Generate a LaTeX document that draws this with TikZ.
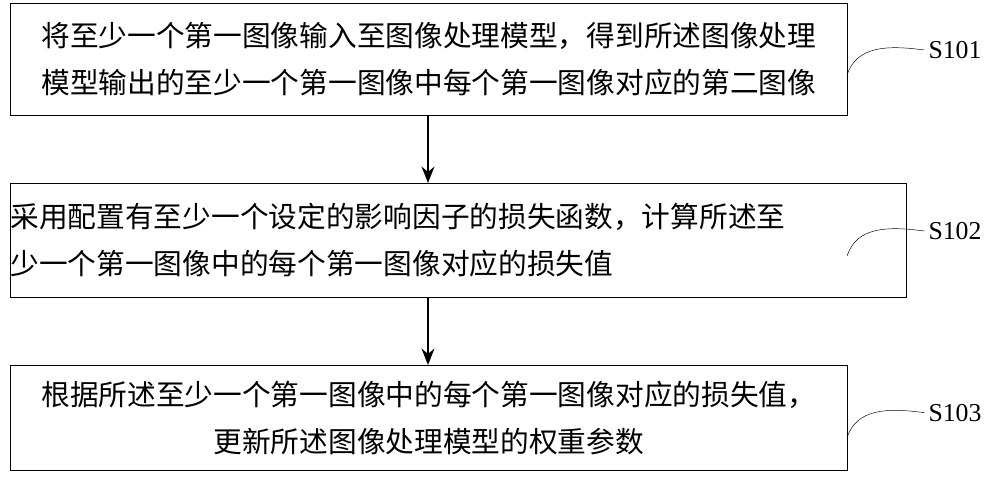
\documentclass[tikz,border=0pt]{standalone}
\usepackage{fontspec}
\setmainfont{Liberation Serif}
\newfontfamily\cjk{Noto Sans CJK SC}
\usetikzlibrary{arrows.meta, positioning}

\tikzset{
	stepbox/.style={draw, thick, minimum width=25.1cm, inner sep=0pt, font=\cjk\fontsize{24.5}{40}\selectfont},
	flow/.style={draw, line width=1.4pt, -{Stealth[length=14pt, width=11pt]}},
	tag/.style={font=\fontsize{22}{24}\selectfont}
}

\begin{document}
\begin{tikzpicture}[x=1cm, y=1cm]
\useasboundingbox (0,0) rectangle (30,14.28);

\node [stepbox, minimum height=3.36cm, align=left, anchor=north west] (1) at (0.3,14.19) {
	将至少一个第一图像输入至图像处理模型，得到所述图像处理\\
	模型输出的至少一个第一图像中每个第一图像对应的第二图像
};

\node [stepbox, minimum height=3.42cm, align=left, anchor=north west] (2) at (0.3,8.79) {
	采用配置有至少一个设定的影响因子的损失函数，计算所述至\\
	少一个第一图像中的每个第一图像对应的损失值\hspace{10.2em}
};

\node [stepbox, minimum height=3.15cm, align=center, anchor=north west] (3) at (0.3,3.33) {
	根据所述至少一个第一图像中的每个第一图像对应的损失值，\\
	更新所述图像处理模型的权重参数
};

\path [flow] (1.south -| 12.84,0) -- (2.north -| 12.84,0);
\path [flow] (2.south -| 12.84,0) -- (3.north -| 12.84,0);

% step labels
\node [tag] (s1) at (28.65,12.78) {S101};
\node [tag] (s2) at (28.65,7.35) {S102};
\node [tag] (s3) at (28.65,1.9) {S103};

\draw (25.41,12.03) .. controls (25.7,12.9) and (26.6,12.93) .. (s1.west);
\draw (25.41,6.6) .. controls (25.7,7.47) and (26.6,7.5) .. (s2.west);
\draw (25.41,1.15) .. controls (25.7,2.02) and (26.6,2.05) .. (s3.west);

\end{tikzpicture}
\end{document}
